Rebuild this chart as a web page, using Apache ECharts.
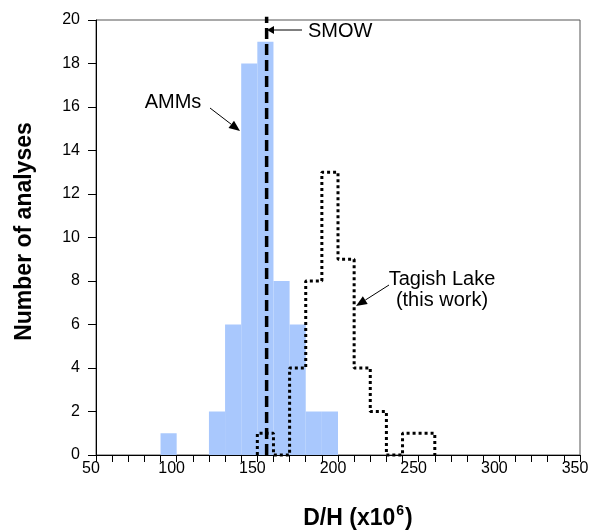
<!DOCTYPE html>
<html>
<head>
<meta charset="utf-8">
<script src="https://cdn.jsdelivr.net/npm/echarts@6/dist/echarts.min.js"></script>
<style>
html,body{margin:0;padding:0;background:#fff;}
#chart{width:595px;height:532px;}
</style>
</head>
<body>
<div id="chart"></div>
<script>
// ---- data ----
const binWidth = 10;
const ammBinStarts = [90, 100, 110, 120, 130, 140, 150, 160, 170, 180, 190];
const ammCounts    = [1, 0, 0, 2, 6, 18, 19, 8, 6, 2, 2];
const tagishBinStarts = [150, 160, 170, 180, 190, 200, 210, 220, 230, 240, 250];
const tagishCounts    = [1, 0, 4, 8, 13, 9, 4, 2, 0, 1, 1];
const smowDH = 155.76;
const xMin = 50, xMax = 350, xLabelStep = 50;
const yMin = 0, yMax = 20, yStep = 2;

// build histogram items
const ammData = ammBinStarts.map((s, i) => [s, ammCounts[i]]);
// outline of the Tagish Lake histogram as a step path
const tagishOutline = [];
let prev = 0;
tagishBinStarts.forEach((s, i) => {
  tagishOutline.push([s, prev]);
  tagishOutline.push([s, tagishCounts[i]]);
  tagishOutline.push([s + binWidth, tagishCounts[i]]);
  prev = tagishCounts[i];
});
tagishOutline.push([tagishBinStarts[tagishBinStarts.length - 1] + binWidth, 0]);
const smowData = [[smowDH, yMin], [smowDH, yMax + 0.15]];

const FONT = '"Liberation Sans", Arial, sans-serif';

function arrow(x1, y1, x2, y2, len, half) {
  const dx = x2 - x1, dy = y2 - y1, L = Math.sqrt(dx*dx + dy*dy);
  const ux = dx / L, uy = dy / L;
  const bx = x2 - ux * len, by = y2 - uy * len;
  return [
    { type: 'line', shape: { x1: x1, y1: y1, x2: bx, y2: by }, style: { stroke: '#000', lineWidth: 1 }, z: 50 },
    { type: 'polygon', shape: { points: [[x2, y2], [bx - uy * half, by + ux * half], [bx + uy * half, by - ux * half]] },
      style: { fill: '#000' }, z: 50 }
  ];
}

const chart = echarts.init(document.getElementById('chart'), null, { renderer: 'canvas' });
const option = {
  animation: false,
  backgroundColor: '#fff',
  grid: { left: 96, right: 15, top: 20, bottom: 77, show: true, borderColor: '#555', borderWidth: 1, backgroundColor: 'transparent' },
  xAxis: {
    type: 'value', min: xMin, max: xMax, interval: binWidth,
    axisLine: { show: true, lineStyle: { color: '#000', width: 1 } },
    axisTick: { show: true, length: 7, inside: false, lineStyle: { color: '#000', width: 1 } },
    axisLabel: {
      margin: 6, fontFamily: FONT, fontSize: 16, color: '#000', padding: [0, 10, 0, 0],
      formatter: v => (v % xLabelStep === 0 ? String(v) : '')
    },
    splitLine: { show: false }
  },
  yAxis: {
    type: 'value', min: yMin, max: yMax, interval: yStep,
    axisLine: { show: true, lineStyle: { color: '#000', width: 1 } },
    axisTick: { show: true, length: 8, inside: false, lineStyle: { color: '#000', width: 1 } },
    axisLabel: { margin: 16, fontFamily: FONT, fontSize: 16, color: '#000' },
    splitLine: { show: false }
  },
  series: [
    {
      type: 'custom', name: 'AMMs', data: ammData, z: 2, clip: true,
      renderItem: function (params, api) {
        const s = api.value(0), c = api.value(1);
        if (!c) return null;
        const p0 = api.coord([s, c]);
        const p1 = api.coord([s + binWidth, 0]);
        return { type: 'rect', shape: { x: p0[0], y: p0[1], width: p1[0] - p0[0], height: p1[1] - p0[1] },
                 style: { fill: '#a9c8fd' } };
      }
    },
    {
      type: 'line', name: 'SMOW', data: smowData, z: 5, showSymbol: false, clip: false,
      lineStyle: { color: '#000', width: 3.5, type: [11, 5], cap: 'butt' }
    },
    {
      type: 'line', name: 'Tagish Lake', data: tagishOutline, z: 6, showSymbol: false, clip: false,
      lineStyle: { color: '#000', width: 3, type: [3, 3], cap: 'butt' }
    }
  ],
  graphic: [
    { type: 'text', x: 25, y: 231.5, rotation: Math.PI / 2, z: 50,
      style: { text: 'Number of analyses', font: 'bold 23px ' + FONT, fill: '#000', align: 'center', verticalAlign: 'middle' } },
    { type: 'text', x: 358, y: 517, z: 50,
      style: { text: '{a|D/H (x10}{s|6}{a|)}', align: 'center', verticalAlign: 'middle',
        rich: {
          a: { fontFamily: FONT, fontWeight: 'bold', fontSize: 23, fill: '#000', lineHeight: 26, verticalAlign: 'bottom' },
          s: { fontFamily: FONT, fontWeight: 'bold', fontSize: 14, fill: '#000', lineHeight: 26, verticalAlign: 'top', padding: [0, 1, 0, 1] }
        } } },
    { type: 'text', x: 308, y: 31, z: 50,
      style: { text: 'SMOW', font: '20px ' + FONT, fill: '#000', align: 'left', verticalAlign: 'middle' } },
    { type: 'text', x: 173, y: 102, z: 50,
      style: { text: 'AMMs', font: '20px ' + FONT, fill: '#000', align: 'center', verticalAlign: 'middle' } },
    { type: 'text', x: 442, y: 290, z: 50,
      style: { text: 'Tagish Lake\n(this work)', font: '20px ' + FONT, lineHeight: 21, fill: '#000', align: 'center', verticalAlign: 'middle' } }
  ].concat(arrow(302, 30, 267, 30, 7, 4))
   .concat(arrow(210, 108, 240, 131, 11, 4.5))
   .concat(arrow(389, 285, 356, 306, 11, 4.5))
};
chart.setOption(option);
</script>
</body>
</html>
